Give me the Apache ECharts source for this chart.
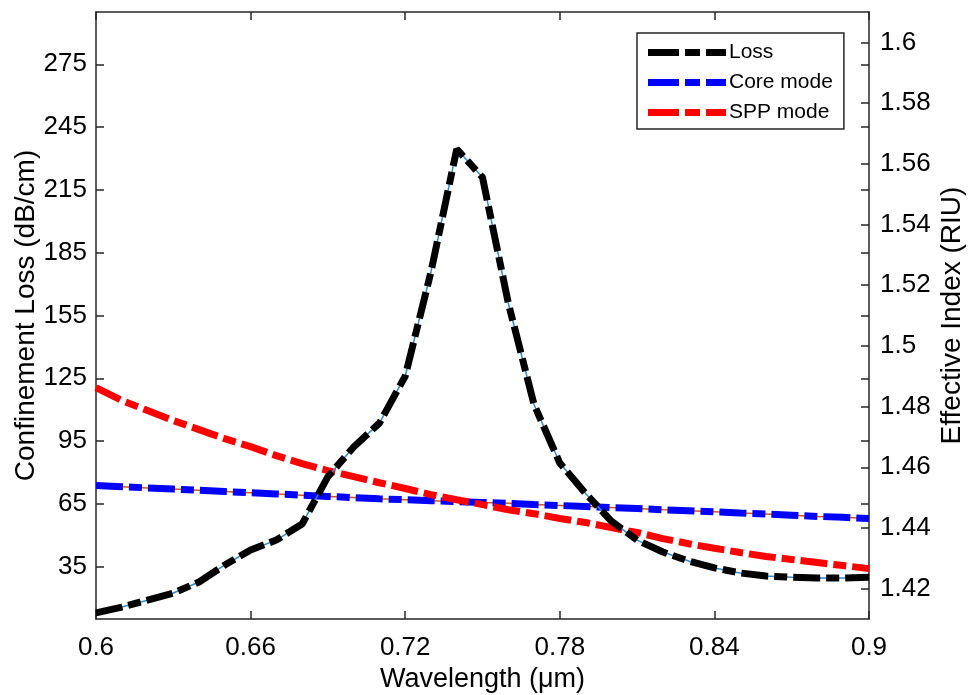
<!DOCTYPE html>
<html>
<head>
<meta charset="utf-8">
<script src="https://cdn.jsdelivr.net/npm/echarts@6/dist/echarts.min.js"></script>
<style>
html,body{margin:0;padding:0;background:#fff;}
#chart{width:973px;height:695px;}
</style>
</head>
<body>
<div id="chart"></div>
<script>
const wavelength = [0.60,0.61,0.62,0.63,0.64,0.65,0.66,0.67,0.68,0.69,0.70,0.71,0.72,0.73,0.74,0.75,0.76,0.77,0.78,0.79,0.80,0.81,0.82,0.83,0.84,0.85,0.86,0.87,0.88,0.89,0.90];
const lossDb = [12.9,15.7,19.0,22.4,27.7,35.8,43.0,47.7,55.4,78.0,92.2,103.6,126.0,175.8,234.5,221.0,161.0,112.5,84.5,70.0,56.8,47.7,42.0,37.7,34.4,32.0,30.5,30.0,29.6,29.6,30.0];
const coreIndex = [1.4540,1.4536,1.4532,1.4528,1.4524,1.4520,1.4516,1.4512,1.4508,1.4504,1.4500,1.4496,1.4493,1.4490,1.4487,1.4484,1.4481,1.4477,1.4474,1.4471,1.4467,1.4464,1.4460,1.4457,1.4453,1.4449,1.4446,1.4442,1.4438,1.4435,1.4431];
const sppIndex = [1.4862,1.4820,1.4787,1.4754,1.4724,1.4694,1.4668,1.4638,1.4612,1.4589,1.4569,1.4549,1.4530,1.4510,1.4493,1.4477,1.4460,1.4447,1.4431,1.4418,1.4401,1.4385,1.4365,1.4348,1.4333,1.4319,1.4306,1.4296,1.4286,1.4276,1.4266];
const wavelengthTicks = [0.6,0.66,0.72,0.78,0.84,0.9];
const lossTicks = [35,65,95,125,155,185,215,245,275];
const indexTicks = [1.42,1.44,1.46,1.48,1.5,1.52,1.54,1.56,1.58,1.6];

const FONT = 'Liberation Sans, Arial, sans-serif';
const AX = '#262626';
const pair = (xs, ys) => xs.map((x, i) => [x, ys[i]]);
const dashDot = [27, 6, 13, 6];
const legendIcon = 'path://M0,0H31V7H0Z M37,0H52V7H37Z M58,0H78V7H58Z';

const chart = echarts.init(document.getElementById('chart'), null, {renderer: 'canvas'});
chart.setOption({
  animation: false,
  backgroundColor: '#ffffff',
  grid: {left: 96, right: 104, top: 12, bottom: 76, containLabel: false, outerBoundsMode: 'none'},
  legend: {
    orient: 'vertical',
    left: 637, top: 33,
    padding: [9, 11, 6, 11],
    itemGap: 9,
    itemWidth: 78, itemHeight: 7,
    backgroundColor: '#ffffff',
    borderColor: AX, borderWidth: 1.5,
    textStyle: {fontFamily: FONT, fontSize: 21, color: '#000', padding: [0, 0, 0, -2]},
    data: [
      {name: 'Loss', icon: legendIcon, itemStyle: {color: '#000000'}},
      {name: 'Core mode', icon: legendIcon, itemStyle: {color: '#0000FF'}},
      {name: 'SPP mode', icon: legendIcon, itemStyle: {color: '#FF0000'}}
    ]
  },
  xAxis: [{
    type: 'value', min: 0.6, max: 0.9, position: 'bottom',
    name: 'Wavelength (\u03bcm)', nameLocation: 'middle', nameGap: 47, nameMoveOverlap: false,
    nameTextStyle: {fontFamily: FONT, fontSize: 27, color: '#000'},
    axisLine: {show: true, lineStyle: {color: AX, width: 1.5}},
    axisTick: {show: true, inside: true, length: 8, customValues: wavelengthTicks, lineStyle: {color: AX, width: 1.5}},
    axisLabel: {show: true, margin: 16, customValues: wavelengthTicks, fontFamily: FONT, fontSize: 26, color: '#000',
      formatter: v => String(+v.toFixed(2))},
    splitLine: {show: false}
  }, {
    type: 'value', min: 0.6, max: 0.9, position: 'top',
    axisLine: {show: true, lineStyle: {color: AX, width: 1.5}},
    axisTick: {show: true, inside: true, length: 8, customValues: wavelengthTicks, lineStyle: {color: AX, width: 1.5}},
    axisLabel: {show: false},
    splitLine: {show: false}
  }],
  yAxis: [{
    type: 'value', min: 10, max: 300, position: 'left',
    name: 'Confinement Loss (dB/cm)', nameLocation: 'middle', nameGap: 56, nameRotate: 90, nameMoveOverlap: false,
    nameTextStyle: {fontFamily: FONT, fontSize: 28, color: '#000'},
    axisLine: {show: true, lineStyle: {color: AX, width: 1.5}},
    axisTick: {show: true, inside: true, length: 8, customValues: lossTicks, lineStyle: {color: AX, width: 1.5}},
    axisLabel: {show: true, margin: 9, customValues: lossTicks, fontFamily: FONT, fontSize: 26, color: '#000'},
    splitLine: {show: false}
  }, {
    type: 'value', min: 1.41, max: 1.61, position: 'right',
    name: 'Effective Index (RIU)', nameLocation: 'middle', nameGap: 69, nameRotate: 90, nameMoveOverlap: false,
    nameTextStyle: {fontFamily: FONT, fontSize: 28, color: '#000'},
    axisLine: {show: true, lineStyle: {color: AX, width: 1.5}},
    axisTick: {show: true, inside: true, length: 8, customValues: indexTicks, lineStyle: {color: AX, width: 1.5}},
    axisLabel: {show: true, margin: 11, customValues: indexTicks, fontFamily: FONT, fontSize: 26, color: '#000',
      formatter: v => String(+v.toFixed(2))},
    splitLine: {show: false}
  }, {
    type: 'value', min: 10, max: 300, position: 'right', offset: 0,
    axisLine: {show: false},
    axisTick: {show: true, inside: true, length: 8, customValues: lossTicks, lineStyle: {color: AX, width: 1.5}},
    axisLabel: {show: false},
    splitLine: {show: false}
  }],
  series: [{
    name: 'Core mode inner', type: 'line', xAxisIndex: 0, yAxisIndex: 1, z: 1,
    data: pair(wavelength, coreIndex), showSymbol: false, symbol: 'none', silent: true,
    lineStyle: {color: '#D95319', width: 1.5}
  }, {
    name: 'Core mode', type: 'line', xAxisIndex: 0, yAxisIndex: 1, z: 2,
    data: pair(wavelength, coreIndex), showSymbol: false, symbol: 'none',
    itemStyle: {color: '#0000FF'},
    lineStyle: {color: '#0000FF', width: 7, type: dashDot, cap: 'butt'}
  }, {
    name: 'SPP mode', type: 'line', xAxisIndex: 0, yAxisIndex: 1, z: 3,
    data: pair(wavelength, sppIndex), showSymbol: false, symbol: 'none',
    itemStyle: {color: '#FF0000'},
    lineStyle: {color: '#FF0000', width: 7, type: dashDot, cap: 'butt'}
  }, {
    name: 'Loss inner', type: 'line', xAxisIndex: 0, yAxisIndex: 0, z: 4,
    data: pair(wavelength, lossDb), showSymbol: false, symbol: 'none', silent: true,
    lineStyle: {color: '#2B8CD8', width: 1.5}
  }, {
    name: 'Loss', type: 'line', xAxisIndex: 0, yAxisIndex: 0, z: 5,
    data: pair(wavelength, lossDb), showSymbol: false, symbol: 'none',
    itemStyle: {color: '#000000'},
    lineStyle: {color: '#000000', width: 7, type: dashDot, cap: 'butt'}
  }]
});
</script>
</body>
</html>
